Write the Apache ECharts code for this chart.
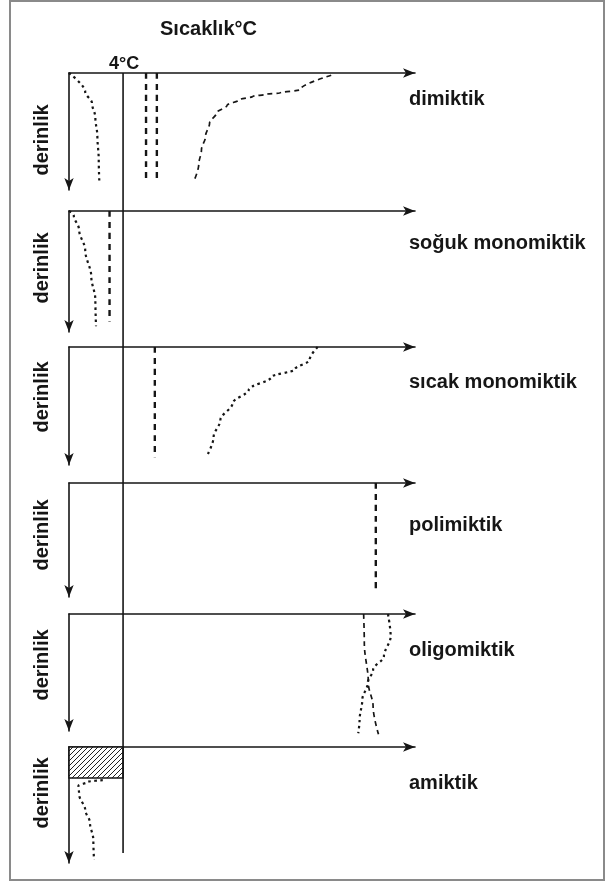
<!DOCTYPE html>
<html>
<head>
<meta charset="utf-8">
<script src="https://cdn.jsdelivr.net/npm/echarts@6/dist/echarts.min.js"></script>
<style>
html,body{margin:0;padding:0;background:#fff;}
#frame{position:absolute;left:9px;top:0;width:596px;height:881px;border:2px solid #8a8a8a;box-sizing:border-box;}
#chart{position:absolute;left:0;top:0;width:606px;height:881px;}
</style>
</head>
<body>
<div id="frame"></div>
<div id="chart"></div>
<script>
// temperature (°C) on x, depth (relative 0-10.5) on y
var tempMax = 25.6;
var depthMax = 10.5;
var panelNames = ['dimiktik', 'soğuk monomiktik', 'sıcak monomiktik', 'polimiktik', 'oligomiktik', 'amiktik'];
var iceDepth = 2.8;
var fourDegree = [[4, 0], [4, 1]];

// dimiktik
var dimWinter = [[0, 0], [1.2, 1.7], [1.7, 2.7], [1.95, 4], [2.1, 5.7], [2.2, 7.8], [2.25, 9.9]];
var dimSpring = [[5.7, 0], [5.7, 9.9]];
var dimAutumn = [[6.5, 0], [6.5, 9.9]];
var dimSummer = [[19.4, 0.2], [17.1, 1.5], [15.6, 1.8], [14.6, 1.9], [13.6, 2.1], [12.6, 2.4], [11.7, 2.9], [10.9, 3.6], [10.4, 4.5], [10.1, 5.7], [9.8, 6.9], [9.6, 8.2], [9.2, 9.8]];
// soğuk monomiktik
var coldWinter = [[0, 0], [0.35, 0.35], [0.75, 1.65], [1.2, 3.4], [1.65, 5.7], [1.95, 7.7], [2.0, 10]];
var coldMixed = [[3.0, 0], [3.0, 9.6]];
// sıcak monomiktik
var warmMixed = [[6.35, 0], [6.35, 9.8]];
var warmSummer = [[18.4, 0], [17.8, 1.15], [16.7, 2.0], [15.0, 2.65], [13.3, 3.8], [12.1, 5.0], [11.2, 6.5], [10.7, 8.0], [10.2, 9.7]];
// polimiktik
var polyMixed = [[22.7, 0], [22.7, 10]];
// oligomiktik
var oligoDashed = [[21.8, 0], [21.85, 2.6], [22.15, 6.2], [22.5, 8.3], [22.9, 10.8]];
var oligoDotted = [[23.6, 0], [23.8, 2.0], [23.3, 3.8], [22.5, 5.0], [22.1, 6.2], [21.7, 7.7], [21.5, 9.5], [21.4, 10.7]];
// amiktik
var amicticWater = [[2.5, 3.0], [1.4, 3.15], [0.7, 3.5], [0.75, 4.3], [1.2, 5.7], [1.55, 6.85], [1.8, 8.4], [1.85, 10.2]];

// layout
var plotLeft = 69, plotWidth = 346;
var panelTop = [73, 211, 347, 483, 614, 747];
var panelHeight = [117, 121, 118, 114, 117, 116];
var labelY = [99, 243, 382, 525, 650, 783];
var derinlikY = [140, 268, 397, 535, 665, 793];
var ink = '#161616';
var font = 'bold 20px "Liberation Sans", Arial, sans-serif';

var chart = echarts.init(document.getElementById('chart'));

// hatch pattern for the ice layer
var hatch = document.createElement('canvas');
hatch.width = 5; hatch.height = 5;
var hc = hatch.getContext('2d');
hc.fillStyle = '#fff';
hc.fillRect(0, 0, 5, 5);
hc.strokeStyle = '#222';
hc.lineWidth = 1;
hc.beginPath();
hc.moveTo(-1, 6); hc.lineTo(6, -1);
hc.moveTo(-1, 1); hc.lineTo(1, -1);
hc.moveTo(4, 6); hc.lineTo(6, 4);
hc.stroke();

var grids = [], xAxes = [], yAxes = [];
for (var i = 0; i < 6; i++) {
  grids.push({left: plotLeft, top: panelTop[i], width: plotWidth, height: panelHeight[i]});
  xAxes.push({
    gridIndex: i, type: 'value', min: 0, max: tempMax, position: 'top',
    axisLine: {show: true, onZero: false, symbol: ['none', 'arrow'], symbolSize: [7, 12], lineStyle: {color: ink, width: 1.6}},
    axisTick: {show: false}, axisLabel: {show: false}, splitLine: {show: false}
  });
  yAxes.push({
    gridIndex: i, type: 'value', min: 0, max: depthMax, inverse: true,
    axisLine: {show: true, onZero: false, symbol: ['arrow', 'none'], symbolSize: [7, 12], lineStyle: {color: ink, width: 1.6}},
    axisTick: {show: false}, axisLabel: {show: false}, splitLine: {show: false}
  });
}
// overlay for the 4°C line across all panels
grids.push({left: plotLeft, top: 73, width: plotWidth, height: 780});
xAxes.push({gridIndex: 6, type: 'value', min: 0, max: tempMax, show: false});
yAxes.push({gridIndex: 6, type: 'value', min: 0, max: 1, inverse: true, show: false});

var dotted = {color: ink, width: 2.2, type: [2.5, 3.5]};
var dashed = {color: ink, width: 1.7, type: [5, 4]};
var thickDash = {color: ink, width: 2.4, type: [6, 5]};

function curve(grid, data, style) {
  return {
    type: 'line', xAxisIndex: grid, yAxisIndex: grid, data: data,
    symbol: 'none', smooth: 0.35, smoothMonotone: 'y', clip: false, silent: true,
    lineStyle: style
  };
}

var series = [
  curve(0, dimWinter, dotted),
  curve(0, dimSpring, thickDash),
  curve(0, dimAutumn, thickDash),
  curve(0, dimSummer, dashed),
  curve(1, coldWinter, dotted),
  curve(1, coldMixed, thickDash),
  curve(2, warmMixed, thickDash),
  curve(2, warmSummer, dotted),
  curve(3, polyMixed, thickDash),
  curve(4, oligoDashed, dashed),
  curve(4, oligoDotted, dotted),
  curve(5, amicticWater, dotted),
  curve(6, fourDegree, {color: ink, width: 1.6, type: 'solid'})
];
series[11].markArea = {
  silent: true,
  itemStyle: {color: {image: hatch, repeat: 'repeat'}, borderColor: ink, borderWidth: 1.6},
  data: [[{coord: [0, 0]}, {coord: [4, iceDepth]}]]
};

var graphics = [
  {type: 'text', x: 160, y: 29, style: {text: 'Sıcaklık°C', font: font, fill: ink, align: 'left', verticalAlign: 'middle'}},
  {type: 'text', x: 109, y: 64, style: {text: '4°C', font: 'bold 18px "Liberation Sans", Arial, sans-serif', fill: ink, align: 'left', verticalAlign: 'middle'}}
];
for (var j = 0; j < 6; j++) {
  graphics.push({type: 'text', x: 409, y: labelY[j], style: {text: panelNames[j], font: font, fill: ink, align: 'left', verticalAlign: 'middle'}});
  graphics.push({type: 'text', x: 42, y: derinlikY[j], rotation: Math.PI / 2, style: {text: 'derinlik', font: font, fill: ink, align: 'center', verticalAlign: 'middle'}});
}

chart.setOption({
  animation: false,
  grid: grids,
  xAxis: xAxes,
  yAxis: yAxes,
  series: series,
  graphic: graphics
});
</script>
</body>
</html>
